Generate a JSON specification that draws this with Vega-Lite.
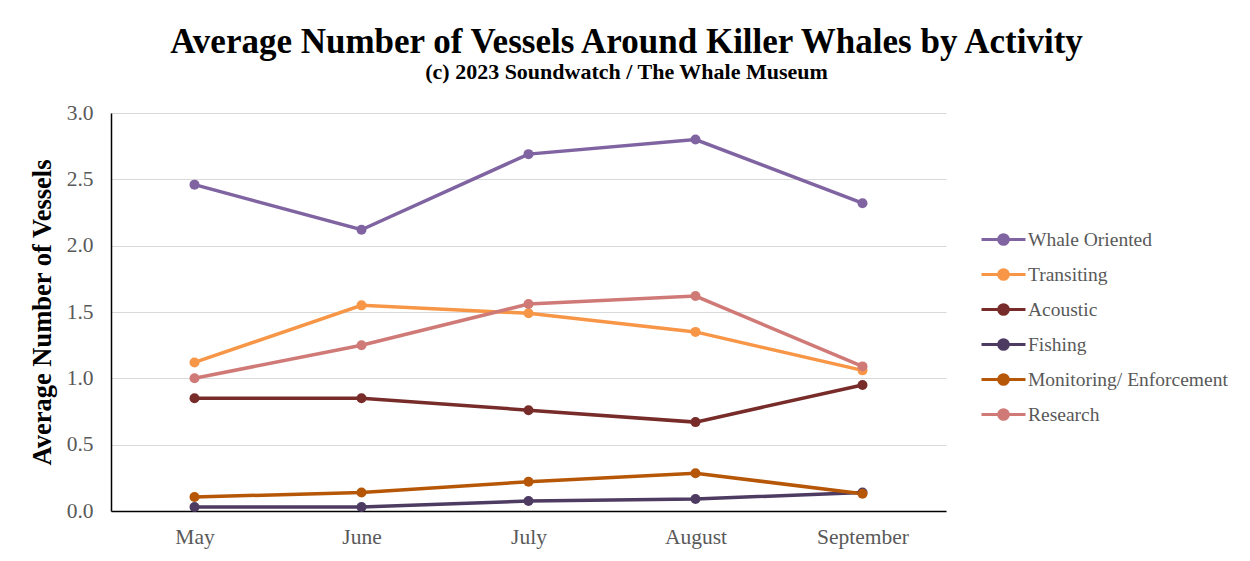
{
  "$schema": "https://vega.github.io/schema/vega-lite/v6.json",
  "autosize": {"type": "none"},
  "width": 835,
  "height": 398,
  "padding": {"left": 111, "top": 113, "right": 304, "bottom": 50},
  "background": "white",
  "title": {
    "text": "Average Number of Vessels Around Killer Whales by Activity",
    "subtitle": "(c) 2023 Soundwatch / The Whale Museum",
    "anchor": "middle",
    "frame": "group",
    "dx": 98,
    "offset": 19,
    "font": "Liberation Serif",
    "fontSize": 35,
    "fontWeight": "bold",
    "color": "#000000",
    "subtitleFont": "Liberation Serif",
    "subtitleFontSize": 22,
    "subtitleFontWeight": "bold",
    "subtitleColor": "#000000",
    "subtitlePadding": 2
  },
  "config": {
    "font": "Liberation Serif",
    "view": {"stroke": null},
    "axis": {"labelFont": "Liberation Serif", "titleFont": "Liberation Serif"},
    "legend": {"labelFont": "Liberation Serif"}
  },
  "data": {
    "values": [
      {"month": "May", "activity": "Whale Oriented", "value": 2.46},
      {"month": "June", "activity": "Whale Oriented", "value": 2.12},
      {"month": "July", "activity": "Whale Oriented", "value": 2.69},
      {"month": "August", "activity": "Whale Oriented", "value": 2.8},
      {"month": "September", "activity": "Whale Oriented", "value": 2.32},
      {"month": "May", "activity": "Transiting", "value": 1.12},
      {"month": "June", "activity": "Transiting", "value": 1.55},
      {"month": "July", "activity": "Transiting", "value": 1.49},
      {"month": "August", "activity": "Transiting", "value": 1.35},
      {"month": "September", "activity": "Transiting", "value": 1.06},
      {"month": "May", "activity": "Acoustic", "value": 0.85},
      {"month": "June", "activity": "Acoustic", "value": 0.85},
      {"month": "July", "activity": "Acoustic", "value": 0.76},
      {"month": "August", "activity": "Acoustic", "value": 0.67},
      {"month": "September", "activity": "Acoustic", "value": 0.95},
      {"month": "May", "activity": "Fishing", "value": 0.03},
      {"month": "June", "activity": "Fishing", "value": 0.03},
      {"month": "July", "activity": "Fishing", "value": 0.075},
      {"month": "August", "activity": "Fishing", "value": 0.09},
      {"month": "September", "activity": "Fishing", "value": 0.14},
      {"month": "May", "activity": "Monitoring/ Enforcement", "value": 0.105},
      {"month": "June", "activity": "Monitoring/ Enforcement", "value": 0.14},
      {"month": "July", "activity": "Monitoring/ Enforcement", "value": 0.22},
      {"month": "August", "activity": "Monitoring/ Enforcement", "value": 0.285},
      {"month": "September", "activity": "Monitoring/ Enforcement", "value": 0.13},
      {"month": "May", "activity": "Research", "value": 1.0},
      {"month": "June", "activity": "Research", "value": 1.25},
      {"month": "July", "activity": "Research", "value": 1.56},
      {"month": "August", "activity": "Research", "value": 1.62},
      {"month": "September", "activity": "Research", "value": 1.09}
    ]
  },
  "encoding": {
    "x": {
      "field": "month",
      "type": "nominal",
      "sort": ["May", "June", "July", "August", "September"],
      "scale": {"type": "point", "padding": 0.5},
      "axis": {
        "title": null,
        "labelAngle": 0,
        "labelFont": "Liberation Serif",
        "labelFontSize": 21.5,
        "labelColor": "#595959",
        "labelPadding": 15,
        "ticks": false,
        "domainColor": "#000000",
        "domainWidth": 1.5,
        "grid": false
      }
    },
    "y": {
      "field": "value",
      "type": "quantitative",
      "scale": {"domain": [0, 3]},
      "axis": {
        "title": "Average Number of Vessels",
        "titleFont": "Liberation Serif",
        "titleFontSize": 26.5,
        "titleFontWeight": "bold",
        "titleColor": "#000000",
        "titlePadding": 10,
        "values": [0, 0.5, 1, 1.5, 2, 2.5, 3],
        "format": ".1f",
        "labelFont": "Liberation Serif",
        "labelFontSize": 21.5,
        "labelColor": "#595959",
        "labelPadding": 18,
        "ticks": false,
        "domainColor": "#000000",
        "domainWidth": 1.5,
        "gridColor": "#d9d9d9",
        "gridWidth": 1
      }
    },
    "color": {
      "field": "activity",
      "type": "nominal",
      "sort": ["Whale Oriented", "Transiting", "Acoustic", "Fishing", "Monitoring/ Enforcement", "Research"],
      "scale": {
        "domain": ["Whale Oriented", "Transiting", "Acoustic", "Fishing", "Monitoring/ Enforcement", "Research"],
        "range": ["#8064A2", "#F79646", "#772C2A", "#4D3B62", "#B65708", "#D07A77"]
      },
      "legend": {
        "title": null,
        "orient": "none",
        "legendX": 869,
        "legendY": 103,
        "symbolType": "M -1 0 L -0.22 0 M 0.22 0 L 1 0 M -0.22 0 A 0.22 0.22 0 1 1 0.22 0 A 0.22 0.22 0 1 1 -0.22 0 Z",
        "symbolSize": 1936,
        "symbolStrokeWidth": 3,
        "labelFont": "Liberation Serif",
        "labelFontSize": 19.5,
        "labelColor": "#595959",
        "labelLimit": 300,
        "labelOffset": 1,
        "rowPadding": -8.4,
        "encode": {
          "symbols": {
            "update": {
              "fill": {"scale": "color", "field": "value"},
              "stroke": {"scale": "color", "field": "value"},
              "opacity": {"value": 1}
            }
          }
        }
      }
    }
  },
  "layer": [
    {"mark": {"type": "line", "strokeWidth": 3.5}},
    {"mark": {"type": "point", "filled": true, "size": 100, "opacity": 1}}
  ]
}
